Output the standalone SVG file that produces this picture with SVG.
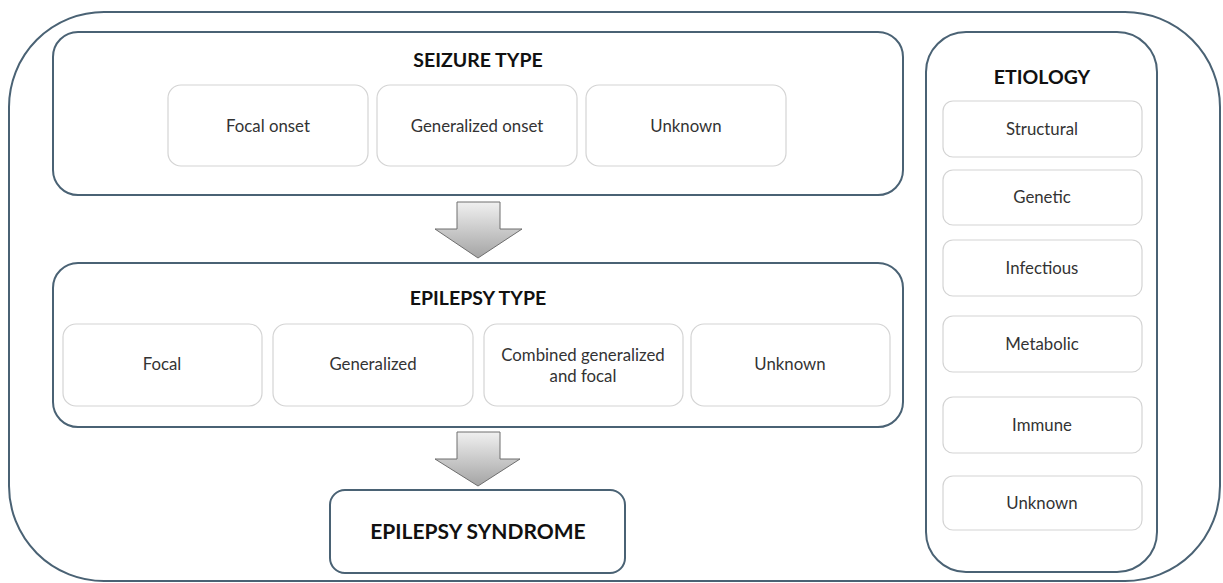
<svg xmlns="http://www.w3.org/2000/svg" width="1223" height="583" viewBox="0 0 1223 583">
<style>
.outer{fill:#fff;stroke:#4a6274;stroke-width:2}
.grp{fill:#fff;stroke:#4a6274;stroke-width:2}
.item{fill:#fff;stroke:#d4d4d4;stroke-width:1.2}
.title{font-family:Lato,"Liberation Sans",sans-serif;font-weight:bold;font-size:19.5px;fill:#111;text-anchor:middle}
.lbl{font-family:Lato,"Liberation Sans",sans-serif;font-size:16.8px;fill:#333;text-anchor:middle}
.arrow{fill:url(#ag);stroke:#6e6e6e;stroke-width:1}
</style>
<defs>
<linearGradient id="ag" x1="0" y1="0" x2="0" y2="1">
<stop offset="0" stop-color="#f0f0f0"/>
<stop offset="1" stop-color="#a4a4a4"/>
</linearGradient>
</defs>
<rect id="frame" class="outer" x="9" y="12" width="1211" height="569" rx="95" ry="95"/>

<g id="seizure-type">
<rect class="grp" x="53" y="32" width="850" height="163" rx="25"/>
<text class="title" x="478" y="67">SEIZURE TYPE</text>
</g>
<g id="focal-onset"><rect class="item" x="168" y="85" width="200" height="81" rx="13"/><text class="lbl" x="268" y="132">Focal onset</text></g>
<g id="generalized-onset"><rect class="item" x="377" y="85" width="200" height="81" rx="13"/><text class="lbl" x="477" y="132">Generalized onset</text></g>
<g id="unknown-onset"><rect class="item" x="586" y="85" width="200" height="81" rx="13"/><text class="lbl" x="686" y="132">Unknown</text></g>

<g id="epilepsy-type">
<rect class="grp" x="53" y="263" width="850" height="164" rx="25"/>
<text class="title" x="478" y="305">EPILEPSY TYPE</text>
</g>
<g id="focal"><rect class="item" x="63" y="324" width="199" height="82" rx="13"/><text class="lbl" x="162" y="370">Focal</text></g>
<g id="generalized"><rect class="item" x="273" y="324" width="200" height="82" rx="13"/><text class="lbl" x="373" y="370">Generalized</text></g>
<g id="combined"><rect class="item" x="484" y="324" width="199" height="82" rx="13"/><text class="lbl" x="583" y="361">Combined generalized</text><text class="lbl" x="583" y="382">and focal</text></g>
<g id="unknown-type"><rect class="item" x="691" y="324" width="199" height="82" rx="13"/><text class="lbl" x="790" y="370">Unknown</text></g>

<g id="epilepsy-syndrome">
<rect class="grp" x="330" y="490" width="295" height="83" rx="15"/>
<text class="title" x="478" y="539" style="font-size:21px">EPILEPSY SYNDROME</text>
</g>

<g id="etiology">
<rect class="grp" x="926" y="32" width="231" height="540" rx="40"/>
<text class="title" x="1042" y="84">ETIOLOGY</text>
</g>
<g id="structural"><rect class="item" x="943" y="101" width="199" height="56" rx="10"/><text class="lbl" x="1042" y="135">Structural</text></g>
<g id="genetic"><rect class="item" x="943" y="170" width="199" height="55" rx="10"/><text class="lbl" x="1042" y="203">Genetic</text></g>
<g id="infectious"><rect class="item" x="943" y="240" width="199" height="56" rx="10"/><text class="lbl" x="1042" y="274">Infectious</text></g>
<g id="metabolic"><rect class="item" x="943" y="316" width="199" height="56" rx="10"/><text class="lbl" x="1042" y="350">Metabolic</text></g>
<g id="immune"><rect class="item" x="943" y="397" width="199" height="56" rx="10"/><text class="lbl" x="1042" y="431">Immune</text></g>
<g id="unknown-etiology"><rect class="item" x="943" y="476" width="199" height="54" rx="10"/><text class="lbl" x="1042" y="509">Unknown</text></g>

<g id="connectors">
<polygon class="arrow" points="457,202 500,202 500,229 522,229 478,258 435,229 457,229"/>
<polygon class="arrow" points="457,432 500,432 500,459 520,459 478,486 435,459 457,459"/>
</g>
</svg>
